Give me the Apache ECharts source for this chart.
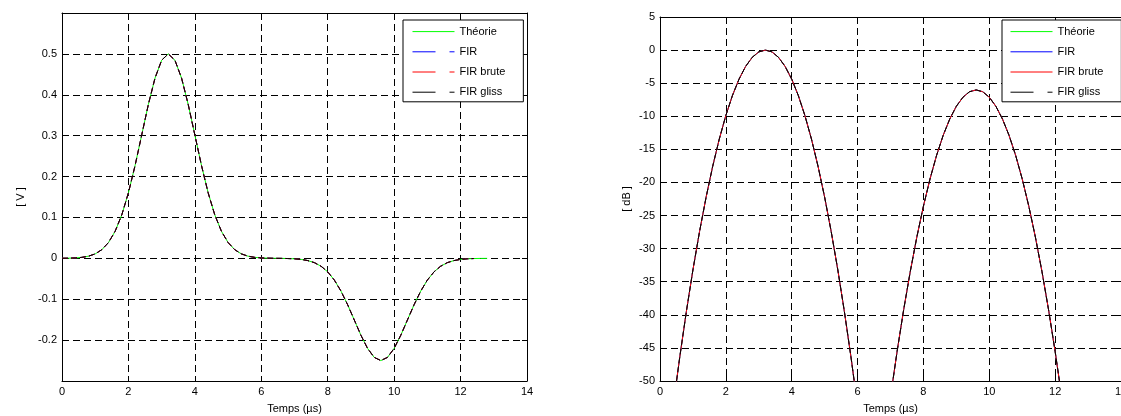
<!DOCTYPE html>
<html>
<head>
<meta charset="utf-8">
<script src="https://cdn.jsdelivr.net/npm/echarts@6/dist/echarts.min.js"></script>
<style>
html,body{margin:0;padding:0;background:#fff;overflow:hidden;}
#c{width:1121px;height:416px;}
</style>
</head>
<body>
<div id="c"></div>
<script>
// Time axis (µs)
const tTheo = [0,0.2,0.4,0.6,0.8,1.0,1.2,1.4,1.6,1.8,2.0,2.2,2.4,2.6,2.8,3.0,3.2,3.4,3.6,3.8,4.0,4.2,4.4,4.6,4.8,5.0,5.2,5.4,5.6,5.8,6.0,6.2,6.4,6.6,6.8,7.0,7.2,7.4,7.6,7.8,8.0,8.2,8.4,8.6,8.8,9.0,9.2,9.4,9.6,9.8,10.0,10.2,10.4,10.6,10.8,11.0,11.2,11.4,11.6,11.8,12.0,12.2,12.4,12.6,12.8];
// Left plot: amplitude [V]
const vTheo = [0.0002,0.0004,0.0010,0.0024,0.0053,0.0109,0.0212,0.0387,0.0662,0.1063,0.1603,0.2269,0.3016,0.3763,0.4407,0.4845,0.5,0.4845,0.4407,0.3763,0.3016,0.2269,0.1603,0.1063,0.0662,0.0387,0.0212,0.0109,0.0053,0.0024,0.0010,0.0004,0.0001,-0.0001,-0.0005,-0.0012,-0.0026,-0.0055,-0.0106,-0.0193,-0.0331,-0.0532,-0.0802,-0.1135,-0.1508,-0.1881,-0.2203,-0.2422,-0.25,-0.2422,-0.2203,-0.1881,-0.1508,-0.1135,-0.0802,-0.0532,-0.0331,-0.0193,-0.0106,-0.0055,-0.0026,-0.0012,-0.0005,-0.0002,-0.0001];
// FIR outputs (visually identical to theory, end earlier)
const tFir = tTheo.slice(0, 63);
const vFir = [0.0002,0.0004,0.0010,0.0024,0.0053,0.0109,0.0212,0.0387,0.0662,0.1063,0.1603,0.2269,0.3016,0.3763,0.4407,0.4845,0.5,0.4845,0.4407,0.3763,0.3016,0.2269,0.1603,0.1063,0.0662,0.0387,0.0212,0.0109,0.0053,0.0024,0.0010,0.0004,0.0001,-0.0001,-0.0005,-0.0012,-0.0026,-0.0055,-0.0106,-0.0193,-0.0331,-0.0532,-0.0802,-0.1135,-0.1508,-0.1881,-0.2203,-0.2422,-0.25,-0.2422,-0.2203,-0.1881,-0.1508,-0.1135,-0.0802,-0.0532,-0.0331,-0.0193,-0.0106,-0.0055,-0.0026,-0.0012,-0.0005];
// Right plot: level [dB]
const dbTheo = [-70.27,-61.76,-53.80,-46.39,-39.53,-33.21,-27.45,-22.23,-17.57,-13.45,-9.88,-6.86,-4.39,-2.47,-1.10,-0.27,0,-0.27,-1.10,-2.47,-4.39,-6.86,-9.88,-13.45,-17.57,-22.23,-27.45,-33.21,-39.53,-46.39,-53.80,-62.3,-76.3,-70.5,-60.2,-52.41,-45.55,-39.23,-33.47,-28.25,-23.59,-19.47,-15.90,-12.88,-10.41,-8.49,-7.12,-6.29,-6.02,-6.29,-7.12,-8.49,-10.41,-12.88,-15.90,-19.47,-23.59,-28.25,-33.47,-39.23,-45.55,-52.41,-59.82,-67.78,-76.29];
const dbFir = [-70.27,-61.76,-53.80,-46.39,-39.53,-33.21,-27.45,-22.23,-17.57,-13.45,-9.88,-6.86,-4.39,-2.47,-1.10,-0.27,0,-0.27,-1.10,-2.47,-4.39,-6.86,-9.88,-13.45,-17.57,-22.23,-27.45,-33.21,-39.53,-46.39,-53.80,-62.3,-76.3,-70.5,-60.2,-52.41,-45.55,-39.23,-33.47,-28.25,-23.59,-19.47,-15.90,-12.88,-10.41,-8.49,-7.12,-6.29,-6.02,-6.29,-7.12,-8.49,-10.41,-12.88,-15.90,-19.47,-23.59,-28.25,-33.47,-39.23,-45.55,-52.41,-59.82];
const seriesNames = ['Théorie','FIR','FIR brute','FIR gliss'];
const seriesColors = ['#00ff00','#0000ff','#ff0000','#000000'];

const pairs = (xs, ys) => xs.map((x, i) => [x, ys[i]]);
const FONT = 'Liberation Sans, Arial, Helvetica, sans-serif';
const GRIDLINE = {show:true, lineStyle:{color:'#000', width:1, type:[7,4]}};
const DASH = [6,3];

function xAx(gi, pos, labels) {
  return {
    type:'value', gridIndex:gi, position:pos, min:0, max:14, interval:2,
    name: labels ? 'Temps (µs)' : '', nameLocation:'middle', nameGap:22,
    nameTextStyle:{color:'#000', fontSize:11, fontFamily:FONT},
    axisLine:{show:true, onZero:false, lineStyle:{color:'#000', width:1}},
    axisTick:{show:true, inside:true, length:5, lineStyle:{color:'#000'}},
    axisLabel:{show:labels, color:'#000', fontSize:11, fontFamily:FONT, margin:5},
    splitLine: labels ? GRIDLINE : {show:false}
  };
}
function yAx(gi, pos, labels, min, max, interval, name, gap, hideEnds) {
  return {
    type:'value', gridIndex:gi, position:pos, min:min, max:max, interval:interval,
    name: labels ? name : '', nameLocation:'middle', nameGap:gap, nameRotate:90,
    nameTextStyle:{color:'#000', fontSize:11, fontFamily:FONT},
    axisLine:{show:true, onZero:false, lineStyle:{color:'#000', width:1}},
    axisTick:{show:true, inside:true, length:5, lineStyle:{color:'#000'}},
    axisLabel:{show:labels, color:'#000', fontSize:11, fontFamily:FONT, margin:5,
      showMinLabel: !hideEnds, showMaxLabel: !hideEnds},
    splitLine: labels ? GRIDLINE : {show:false}
  };
}
function line(name, color, xi, yi, data, dash, z) {
  return {
    type:'line', name:name, xAxisIndex:xi, yAxisIndex:yi, data:data,
    symbol:'none', showSymbol:false, clip:true, z:z,
    lineStyle:{color:color, width:1, type: dash || 'solid'},
    itemStyle:{color:color}, animation:false
  };
}
function legendData(types) {
  return seriesNames.map((n, i) => ({
    name:n,
    lineStyle:{type:types[i], width:1, color:seriesColors[i]},
    itemStyle:{opacity:0, color:'rgba(0,0,0,0)', borderWidth:0}
  }));
}
const legendBase = {
  orient:'vertical', itemWidth:42, itemHeight:14, itemGap:9,
  borderColor:'#000', borderWidth:1, backgroundColor:'#fff', borderRadius:0,
  textStyle:{color:'#000', fontSize:11, fontFamily:FONT},
  selectedMode:false
};

const chart = echarts.init(document.getElementById('c'), null, {renderer:'canvas'});
chart.setOption({
  animation:false,
  backgroundColor:'#fff',
  grid:[
    {left:62, top:13, width:465, height:368, containLabel:false, outerBoundsMode:'none'},
    {left:660, top:17, width:461, height:364, containLabel:false, outerBoundsMode:'none'}
  ],
  xAxis:[ xAx(0,'bottom',true), xAx(0,'top',false), xAx(1,'bottom',true), xAx(1,'top',false) ],
  yAxis:[
    yAx(0,'left',true,-0.3,0.6,0.1,'[ V ]',36,true),
    yAx(0,'right',false,-0.3,0.6,0.1,'',0,true),
    yAx(1,'left',true,-50,5,5,'[ dB ]',28,false),
    yAx(1,'right',false,-50,5,5,'',0,false)
  ],
  legend:[
    Object.assign({}, legendBase, {left:403, top:20, padding:[6,18,4,9],
      data:legendData(['solid',[23,14],[23,14],[23,14]])}),
    Object.assign({}, legendBase, {left:1002, top:20, padding:[6,18,4,8],
      data:legendData(['solid','solid','solid',[23,14]])})
  ],
  series:[
    line(seriesNames[0], seriesColors[0], 0, 0, pairs(tTheo, vTheo), null, 2),
    line(seriesNames[1], seriesColors[1], 0, 0, pairs(tFir, vFir), DASH, 3),
    line(seriesNames[2], seriesColors[2], 0, 0, pairs(tFir, vFir), DASH, 4),
    line(seriesNames[3], seriesColors[3], 0, 0, pairs(tFir, vFir), DASH, 5),
    line(seriesNames[0], seriesColors[0], 2, 2, pairs(tTheo, dbTheo), null, 2),
    line(seriesNames[1], seriesColors[1], 2, 2, pairs(tFir, dbFir), null, 3),
    line(seriesNames[2], seriesColors[2], 2, 2, pairs(tFir, dbFir), null, 4),
    line(seriesNames[3], seriesColors[3], 2, 2, pairs(tFir, dbFir), DASH, 5)
  ]
});
</script>
</body>
</html>
